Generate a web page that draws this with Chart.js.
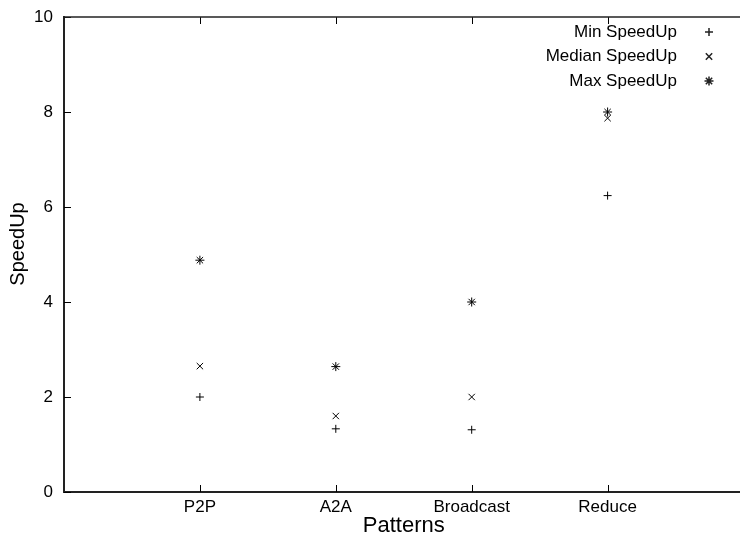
<!DOCTYPE html>
<html>
<head>
<meta charset="utf-8">
<script src="https://cdn.jsdelivr.net/npm/chart.js@4/dist/chart.umd.min.js"></script>
<style>
  html, body { margin: 0; padding: 0; background: #fff; overflow: hidden; }
  /* gnuplot's plot box runs to x = 5, a little past the right edge of the window */
  #wrap { width: 749px; height: 538px; position: relative; }
</style>
</head>
<body>
<div id="wrap"><canvas id="speedChart"></canvas></div>
<script>
const patterns = ['P2P', 'A2A', 'Broadcast', 'Reduce'];
const minSpeedUp = [2.0, 1.33, 1.31, 6.24];
const medianSpeedUp = [2.65, 1.6, 2.0, 7.87];
const maxSpeedUp = [4.88, 2.64, 4.0, 8.0];
const yTicks = [0, 2, 4, 6, 8, 10];

const toPoints = vals => vals.map((v, i) => ({ x: i + 1, y: v }));
const font = 'Liberation Sans, Arial, Helvetica, sans-serif';

// gnuplot style: inward ticks, top mirror, y label, right-aligned key
const gnuplotBits = {
  id: 'gnuplotBits',
  afterDraw(chart) {
    const c = chart.ctx, x = chart.scales.x, y = chart.scales.y, a = chart.chartArea;
    c.save();
    c.strokeStyle = '#000';
    c.lineWidth = 1;
    c.beginPath();
    yTicks.forEach(t => {
      const py = Math.round(y.getPixelForValue(t)) + 0.5;
      c.moveTo(a.left, py); c.lineTo(a.left + 7, py);
    });
    patterns.forEach((p, i) => {
      const px = Math.round(x.getPixelForValue(i + 1)) + 0.5;
      c.moveTo(px, a.bottom); c.lineTo(px, a.bottom - 7);
      c.moveTo(px, a.top); c.lineTo(px, a.top + 7);
    });
    c.stroke();
    // top border
    c.strokeStyle = '#222';
    c.lineWidth = 1.5;
    c.beginPath();
    c.moveTo(a.left, a.top); c.lineTo(a.right, a.top);
    c.stroke();

    // y axis title
    c.fillStyle = '#000';
    c.font = '20px ' + font;
    c.textAlign = 'center';
    c.textBaseline = 'middle';
    c.translate(18, 244);
    c.rotate(-Math.PI / 2);
    c.fillText('SpeedUp', 0, 0);
    c.setTransform(1, 0, 0, 1, 0, 0);

    // key
    c.font = '17px ' + font;
    c.textAlign = 'right';
    chart.data.datasets.forEach((ds, i) => {
      const ty = 32 + i * 24.5;
      c.fillText(ds.label, 677, ty);
      Chart.helpers.drawPoint(c, {
        pointStyle: ds.pointStyle, radius: ds.pointRadius, borderWidth: 1
      }, 709, ty);
    });
    c.restore();
  }
};

new Chart(document.getElementById('speedChart'), {
  type: 'scatter',
  data: {
    datasets: [
      { label: 'Min SpeedUp', data: toPoints(minSpeedUp), pointStyle: 'cross', pointRadius: 4 },
      { label: 'Median SpeedUp', data: toPoints(medianSpeedUp), pointStyle: 'crossRot', pointRadius: 4.5 },
      { label: 'Max SpeedUp', data: toPoints(maxSpeedUp), pointStyle: 'star', pointRadius: 4.5 }
    ].map(d => Object.assign(d, { borderColor: '#000', backgroundColor: '#000', borderWidth: 1, pointHoverRadius: d.pointRadius }))
  },
  options: {
    responsive: true,
    maintainAspectRatio: false,
    animation: false,
    layout: { padding: { top: 17, right: 0, bottom: 0, left: 0 } },
    plugins: { legend: { display: false }, tooltip: { enabled: false } },
    scales: {
      x: {
        type: 'linear',
        min: 0,
        max: 5,
        afterBuildTicks: s => { s.ticks = patterns.map((p, i) => ({ value: i + 1 })); },
        afterFit: s => { s.height = 46; },
        ticks: {
          color: '#000',
          font: { family: font, size: 17 },
          padding: -3,
          callback: v => patterns[v - 1]
        },
        grid: { display: false, drawTicks: true, tickLength: 8 },
        border: { display: true, color: '#222', width: 2 },
        title: {
          display: true, text: 'Patterns', color: '#000',
          font: { family: font, size: 22 }, padding: { top: 0, bottom: -1 }
        }
      },
      y: {
        min: 0,
        max: 10,
        afterBuildTicks: s => { s.ticks = yTicks.map(v => ({ value: v })); },
        afterFit: s => { s.width = 64; },
        ticks: {
          color: '#000',
          font: { family: font, size: 17 },
          padding: 3
        },
        grid: { display: false, drawTicks: true, tickLength: 8 },
        border: { display: true, color: '#222', width: 2 }
      }
    }
  },
  plugins: [gnuplotBits]
});
</script>
</body>
</html>
